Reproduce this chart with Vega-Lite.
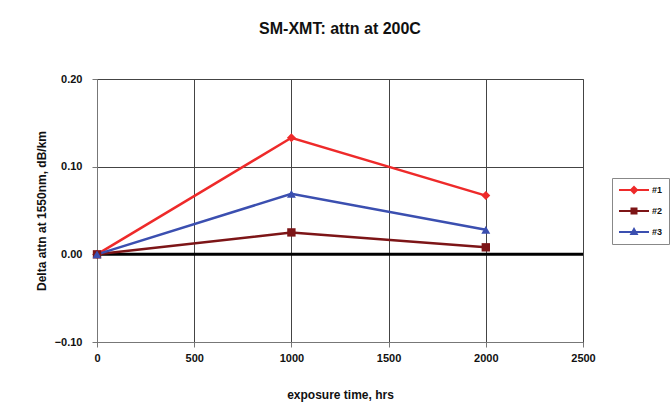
{
  "$schema": "https://vega.github.io/schema/vega-lite/v6.json",
  "width": 486,
  "height": 263,
  "autosize": "none",
  "padding": {"left": 97, "top": 79, "right": 89, "bottom": 71},
  "background": "white",
  "title": {
    "text": "SM-XMT: attn at 200C",
    "font": "Liberation Sans",
    "fontSize": 16,
    "fontWeight": "bold",
    "color": "#111",
    "anchor": "middle",
    "offset": 36
  },
  "config": {
    "view": {"stroke": "#888", "strokeWidth": 1},
    "axis": {
      "labelFont": "Liberation Sans",
      "labelFontSize": 11,
      "labelFontWeight": "bold",
      "labelColor": "#111",
      "titleFont": "Liberation Sans",
      "titleFontSize": 12,
      "titleFontWeight": "bold",
      "titleColor": "#111",
      "domainColor": "#777",
      "tickColor": "#777",
      "gridColor": "#444",
      "gridOpacity": 1,
      "gridWidth": 1
    }
  },
  "data": {
    "values": [
      {"series": "#1", "hrs": 0, "delta": 0.0},
      {"series": "#1", "hrs": 1000, "delta": 0.133},
      {"series": "#1", "hrs": 2000, "delta": 0.067},
      {"series": "#2", "hrs": 0, "delta": 0.0},
      {"series": "#2", "hrs": 1000, "delta": 0.025},
      {"series": "#2", "hrs": 2000, "delta": 0.008},
      {"series": "#3", "hrs": 0, "delta": 0.0},
      {"series": "#3", "hrs": 1000, "delta": 0.069},
      {"series": "#3", "hrs": 2000, "delta": 0.028}
    ]
  },
  "encoding": {
    "x": {
      "field": "hrs",
      "type": "quantitative",
      "scale": {"domain": [0, 2500], "nice": false, "zero": false},
      "axis": {
        "values": [0, 500, 1000, 1500, 2000, 2500],
        "format": "d",
        "title": "exposure time, hrs",
        "grid": true,
        "tickSize": 5,
        "labelPadding": 5,
        "titlePadding": 26,
        "labelFlush": false
      }
    },
    "y": {
      "field": "delta",
      "type": "quantitative",
      "scale": {"domain": [-0.1, 0.2], "nice": false, "zero": false},
      "axis": {
        "values": [-0.1, 0, 0.1, 0.2],
        "format": ".2f",
        "title": "Delta attn at 1550nm, dB/km",
        "grid": true,
        "tickSize": 5,
        "labelPadding": 10,
        "titlePadding": 6
      }
    },
    "color": {
      "field": "series",
      "type": "nominal",
      "scale": {"domain": ["#1", "#2", "#3"], "range": ["#ee2a2a", "#7d1517", "#3b4fb0"]},
      "legend": {
        "title": null,
        "orient": "none",
        "legendX": 515,
        "legendY": 99,
        "direction": "vertical",
        "strokeColor": "#888",
        "fillColor": "white",
        "padding": 6,
        "labelFont": "Liberation Sans",
        "labelFontSize": 9,
        "labelFontWeight": "bold",
        "labelColor": "#111",
        "rowPadding": 7,
        "symbolSize": 100,
        "symbolStrokeWidth": 2,
        "labelOffset": 22,
        "encode": {
          "symbols": {
            "update": {
              "shape": {"signal": "datum.value === '#1' ? 'M-1,0H5M2,-0.6L2.6,0L2,0.6L1.4,0Z' : datum.value === '#2' ? 'M-1,0H5M1.5,-0.5H2.5V0.5H1.5Z' : 'M-1,0H5M2,-0.6L2.55,0.4H1.45Z'"},
              "stroke": {"signal": "scale('color', datum.value)"},
              "fill": {"signal": "scale('color', datum.value)"},
              "strokeWidth": {"value": 2},
              "fillOpacity": {"value": 1},
              "opacity": {"value": 1}
            }
          }
        }
      }
    }
  },
  "layer": [
    {
      "mark": {"type": "rule", "color": "black", "strokeWidth": 3},
      "data": {"values": [{"zero": 0}]},
      "encoding": {
        "y": {"field": "zero", "type": "quantitative"},
        "x": null,
        "color": null
      }
    },
    {
      "mark": {"type": "line", "strokeWidth": 2.5},
      "encoding": {"detail": {"field": "series"}, "order": {"field": "hrs"}}
    },
    {
      "transform": [{"filter": "datum.series === '#1'"}],
      "mark": {"type": "point", "filled": true, "opacity": 1, "size": 80, "shape": "diamond"}
    },
    {
      "transform": [{"filter": "datum.series === '#2'"}],
      "mark": {"type": "point", "filled": true, "opacity": 1, "size": 70, "shape": "square"}
    },
    {
      "transform": [{"filter": "datum.series === '#3'"}],
      "mark": {"type": "point", "filled": true, "opacity": 1, "size": 80, "shape": "triangle-up"}
    }
  ]
}
